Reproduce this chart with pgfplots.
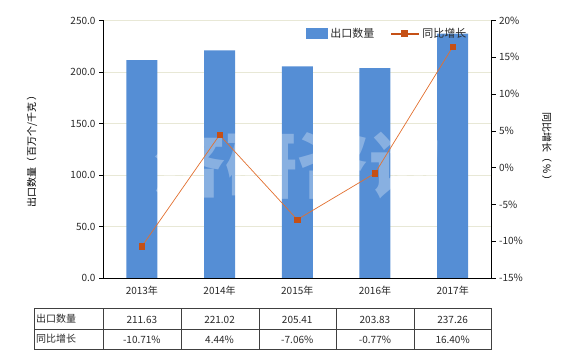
\documentclass[border=0pt]{standalone}
\usepackage{pgfplots}
\pgfplotsset{compat=1.18}
\usepackage{fontspec}
\setmainfont{Noto Sans CJK SC}
\definecolor{barblue}{RGB}{85,142,213}
\definecolor{linec}{RGB}{226,112,48}
\definecolor{markc}{RGB}{197,80,22}
\definecolor{gridc}{RGB}{232,232,214}
\definecolor{txt}{RGB}{40,40,40}
\begin{document}
\begin{tikzpicture}[x=1pt,y=1pt]
\useasboundingbox (0,0) rectangle (580,350);
\begin{axis}[
  at={(103pt,72pt)}, anchor=south west,
  scale only axis, width=388.5pt, height=257.5pt,
  xmin=-0.5, xmax=4.5, ymin=0, ymax=250,
  axis x line*=bottom, axis y line*=left,
  axis line style={-, black, line width=0.8pt},
  xtick={0,1,2,3,4},
  xticklabels={2013年,2014年,2015年,2016年,2017年},
  x tick style={draw=none},
  ytick={0,50,100,150,200,250},
  y tick style={black, line width=0.6pt},
  tick align=outside, major tick length=4pt,
  ymajorgrids, grid style={gridc, line width=0.7pt},
  yticklabel style={/pgf/number format/.cd, fixed, fixed zerofill, precision=1, assume math mode=true},
  ticklabel style={font=\fontsize{10}{11}\selectfont, text=txt},
  xticklabel style={yshift=-1pt},
  ylabel={出口数量（\,百万个/千克\,）},
  ylabel style={font=\fontsize{11}{12}\selectfont, text=txt},
  every axis y label/.style={at={(-71pt,0.5)}, rotate=90, anchor=center},
  clip=false,
  legend style={draw=none, fill=none, at={(0.515,0.985)}, anchor=north west,
     legend columns=2, font=\fontsize{11}{12}\selectfont, text=txt,
     /tikz/every even column/.append style={column sep=14pt}},
]
\addplot[ybar, bar width=31pt, fill=barblue, draw=none,
  legend image code/.code={\fill[barblue] (0pt,-5.5pt) rectangle (22pt,5.5pt);}]
  coordinates {(0,211.63) (1,221.02) (2,205.41) (3,203.83) (4,237.26)};
\addlegendentry{出口数量}
\addlegendimage{line width=2pt, color=markc,
  legend image code/.code={\draw[line width=2pt, markc] (0pt,0pt) -- (28pt,0pt); \fill[markc] (11pt,-2.5pt) rectangle (16pt,2.5pt);}}
\addlegendentry{同比增长}
\end{axis}
% watermark
\node[text=white, opacity=0.3, font=\fontsize{72}{74}\selectfont\bfseries] at (297,185) {济研咨询};
\begin{axis}[
  at={(103pt,72pt)}, anchor=south west,
  scale only axis, width=388.5pt, height=257.5pt,
  xmin=-0.5, xmax=4.5, ymin=-15, ymax=20,
  axis x line=none, axis y line*=right,
  axis line style={-, black, line width=0.8pt},
  ytick={-15,-10,-5,0,5,10,15,20},
  y tick style={black, line width=0.6pt},
  tick align=outside, major tick length=4pt,
  yticklabel={\pgfmathprintnumber[assume math mode=true]{\tick}\%},
  ticklabel style={font=\fontsize{10}{11}\selectfont, text=txt},
  ylabel={同比增长（\,\%\,）},
  ylabel style={font=\fontsize{11}{12}\selectfont, text=txt},
  every axis y label/.style={at={(444pt,0.5)}, rotate=-90, anchor=center},
  clip=false,
]
\addplot[color=linec, line width=0.7pt, mark=square*, mark size=2.6pt,
  mark options={fill=markc, draw=markc}]
  coordinates {(0,-10.71) (1,4.44) (2,-7.06) (3,-0.77) (4,16.40)};
\end{axis}
% table
\begin{scope}[font=\fontsize{10}{11}\selectfont, text=txt]
\draw[black!75, line width=0.7pt] (34,41.4) -- (491.5,41.4)
   (34,21) -- (491.5,21)
   (34,1) -- (491.5,1);
\foreach \xx in {34,103.5,181.2,258.9,336.6,414.3,491.5}
  \draw[black!75, line width=0.7pt] (\xx,41.4) -- (\xx,1);
\node[anchor=west, inner sep=1pt] at (35,31.5) {出口数量};
\node[anchor=west, inner sep=1pt] at (35,11) {同比增长};
\foreach \v [count=\i from 0] in {211.63,221.02,205.41,203.83,237.26}
  \node at (141.85+77.7*\i,30.5) {\v};
\foreach \v [count=\i from 0] in {-10.71\%,4.44\%,-7.06\%,-0.77\%,16.40\%}
  \node at (141.85+77.7*\i,10) {\v};
\end{scope}
\end{tikzpicture}
\end{document}
